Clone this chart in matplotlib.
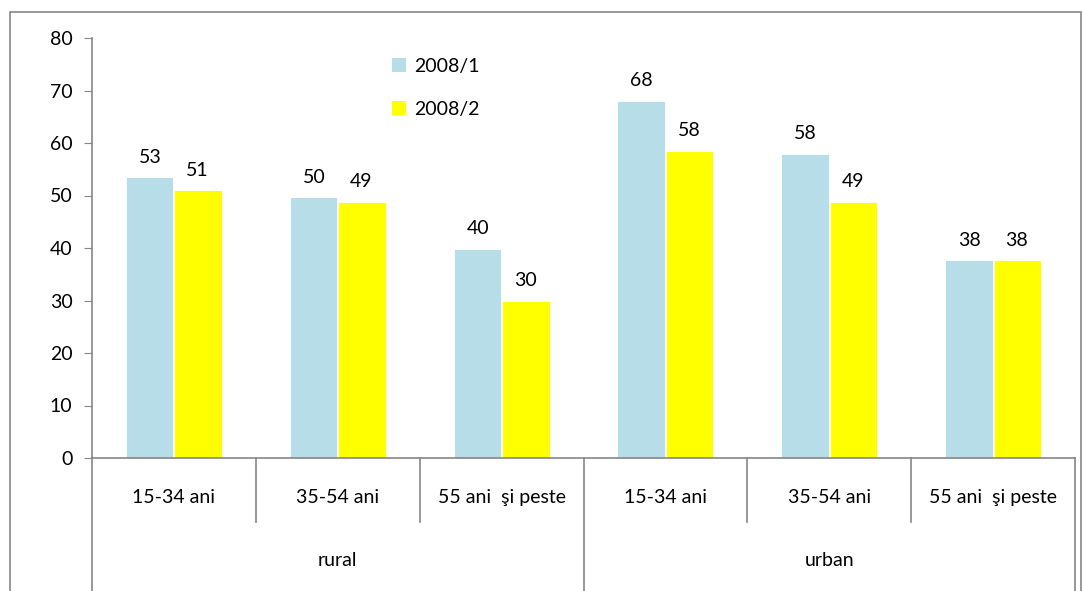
import matplotlib.pyplot as plt
from matplotlib.patches import Patch, Rectangle
from matplotlib.transforms import blended_transform_factory

plt.rcParams['font.family'] = ['Lato', 'DejaVu Sans']

groups = ['rural', 'urban']
ages = ['15-34 ani', '35-54 ani', '55 ani  şi peste']
series = ['2008/1', '2008/2']
v1 = [53.5, 49.7, 39.8, 68.0, 57.9, 37.7]
v2 = [51.0, 48.8, 29.9, 58.5, 48.8, 37.7]
colors = ['#b7dde8', '#ffff00']

W, H = 1082, 591
fig = plt.figure(figsize=(W / 100, H / 100), dpi=100)
ax = fig.add_axes([92 / W, (H - 458) / H, 983 / W, 420 / H])

# outer chart border
fig.add_artist(Rectangle((10 / W, -0.05), 1071 / W, 1 - 12 / H + 0.05,
                         transform=fig.transFigure, fill=False,
                         edgecolor='#868686', lw=1.2))

n = len(v1)
bw = 0.29
fs = 14
for i in range(n):
    c = i + 0.5
    ax.bar(c - bw / 2 - 0.003, v1[i], bw, color=colors[0], edgecolor='white', lw=0.6)
    ax.bar(c + bw / 2 + 0.003, v2[i], bw, color=colors[1], edgecolor='white', lw=0.6)
    ax.text(c - bw / 2, v1[i] + 2.2, '%d' % round(v1[i] - 0.01), ha='center', va='bottom', fontsize=fs)
    ax.text(c + bw / 2, v2[i] + 2.2, '%d' % round(v2[i] - 0.01), ha='center', va='bottom', fontsize=fs)

ax.set_xlim(0, n)
ax.set_ylim(0, 80)
ax.set_yticks(range(0, 81, 10))
ax.tick_params(axis='y', labelsize=fs, length=6, color='#868686', pad=8)
ax.set_xticks([])
for s in ['top', 'right']:
    ax.spines[s].set_visible(False)
for s in ['left', 'bottom']:
    ax.spines[s].set_color('#868686')
    ax.spines[s].set_linewidth(1.2)

# two-level category axis
tr = blended_transform_factory(ax.transData, ax.transAxes)
for i in range(n + 1):
    long = i % 3 == 0
    ax.plot([i, i], [0, -0.33 if long else -0.152], transform=tr,
            color='#868686', lw=1.2, clip_on=False)
for i in range(n):
    ax.text(i + 0.5, -0.093, ages[i % 3], transform=tr, ha='center',
            va='center', fontsize=fs)
for g, name in enumerate(groups):
    ax.text(g * 3 + 1.5, -0.243, name, transform=tr, ha='center',
            va='center', fontsize=fs)

handles = [Patch(facecolor=colors[k], label=series[k]) for k in range(2)]
ax.legend(handles=handles, loc='upper left', bbox_to_anchor=(0.287, 0.995),
          frameon=False, fontsize=fs, handlelength=0.75, handleheight=0.75,
          handletextpad=0.4, labelspacing=1.35)

fig.savefig('out.png', dpi=100)
